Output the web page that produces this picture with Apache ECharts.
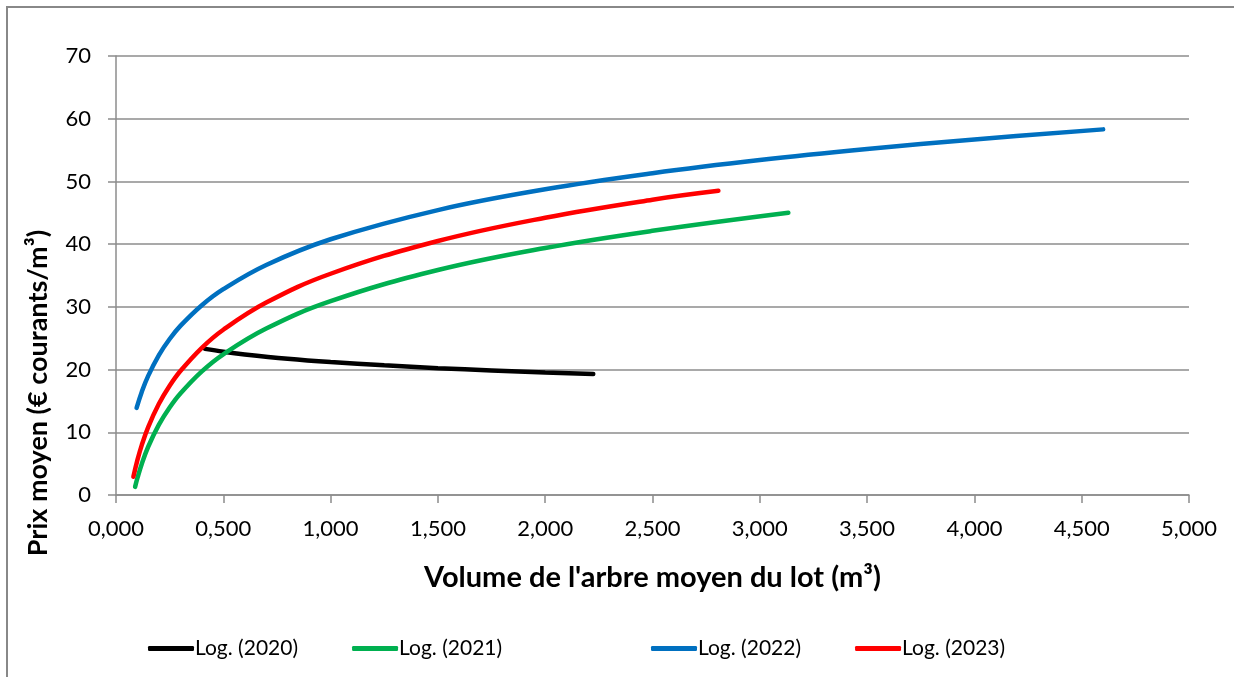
<!DOCTYPE html>
<html>
<head>
<meta charset="utf-8">
<script src="https://cdn.jsdelivr.net/npm/echarts@6/dist/echarts.min.js"></script>
<style>
html,body{margin:0;padding:0;background:#fff;}
#c{width:1234px;height:677px;}
</style>
</head>
<body>
<div id="c"></div>
<script>
// Data (logarithmic trend curves)
const seriesNames = ['Log. (2020)', 'Log. (2021)', 'Log. (2022)', 'Log. (2023)'];
const colors = ['#000000', '#00B050', '#0070C0', '#FF0000'];

const x2020 = [0.415, 0.5, 0.6, 0.8, 1.0, 1.25, 1.5, 1.75, 2.0, 2.224];
const y2020 = [23.3, 22.85, 22.42, 21.73, 21.2, 20.67, 20.23, 19.87, 19.55, 19.3];

const x2021 = [0.089, 0.1, 0.12, 0.15, 0.2, 0.25, 0.3, 0.4, 0.5, 0.7, 1.0, 1.5, 2.0, 2.5, 3.133];
const y2021 = [1.3, 2.72, 4.96, 7.69, 11.21, 13.94, 16.17, 19.70, 22.43, 26.54, 30.91, 35.87, 39.39, 42.12, 45.0];

const x2022 = [0.096, 0.12, 0.15, 0.2, 0.25, 0.3, 0.4, 0.5, 0.7, 1.0, 1.5, 2.0, 2.5, 3.0, 3.5, 4.0, 4.6];
const y2022 = [13.9, 16.44, 19.0, 22.31, 24.87, 26.96, 30.26, 32.82, 36.68, 40.78, 45.43, 48.74, 51.30, 53.40, 55.16, 56.69, 58.3];

const x2023 = [0.081, 0.1, 0.12, 0.15, 0.2, 0.25, 0.3, 0.4, 0.5, 0.7, 1.0, 1.5, 2.0, 2.5, 2.807];
const y2023 = [2.9, 5.59, 7.95, 10.83, 14.54, 17.41, 19.76, 23.47, 26.35, 30.68, 35.28, 40.50, 44.21, 47.09, 48.5];

const xs = [x2020, x2021, x2022, x2023];
const ys = [y2020, y2021, y2022, y2023];

const xTitle = "Volume de l'arbre moyen du lot (m³)";
const yTitle = "Prix moyen (€ courants/m³)";

const font = 'Lato, "Open Sans", sans-serif';

const chart = echarts.init(document.getElementById('c'), null, {renderer: 'canvas'});

const series = seriesNames.map((name, i) => ({
  name: name,
  type: 'line',
  data: xs[i].map((x, j) => [x, ys[i][j]]),
  smooth: 0.4,
  showSymbol: false,
  symbol: 'none',
  lineStyle: {color: colors[i], width: 4.5, cap: 'round'},
  itemStyle: {color: colors[i]},
  emphasis: {disabled: true},
  z: 3
}));

const legendCommon = {
  top: 638,
  padding: 0,
  icon: 'roundRect',
  itemWidth: 46,
  itemHeight: 5,
  itemGap: 54,
  textStyle: {fontFamily: font, fontSize: 21, color: '#000', padding: [0, 0, 0, -4]}
};

chart.setOption({
  animation: false,
  backgroundColor: '#ffffff',
  graphic: [{
    type: 'rect',
    shape: {x: 7, y: 7, width: 1300, height: 800},
    style: {fill: 'none', stroke: '#888888', lineWidth: 2},
    silent: true,
    z: 100
  }, {
    type: 'text',
    x: 38,
    y: 393,
    rotation: Math.PI / 2,
    style: {
      text: yTitle,
      fontFamily: font, fontSize: 27, fontWeight: 'bold', fill: '#000',
      align: 'center', verticalAlign: 'middle'
    },
    silent: true
  }],
  grid: {left: 116, right: 45, top: 56, bottom: 182, containLabel: false},
  legend: [
    Object.assign({data: seriesNames.slice(0, 2), left: 148}, legendCommon),
    Object.assign({data: seriesNames.slice(2, 4), left: 651}, legendCommon)
  ],
  xAxis: {
    type: 'value',
    min: 0,
    max: 5,
    interval: 0.5,
    name: xTitle,
    nameLocation: 'middle',
    nameGap: 68,
    nameTextStyle: {fontFamily: font, fontSize: 29, fontWeight: 'bold', color: '#000'},
    axisLine: {show: true, lineStyle: {color: '#8c8c8c', width: 1.5}},
    axisTick: {show: true, length: 8, inside: false, lineStyle: {color: '#8c8c8c', width: 1.5}},
    axisLabel: {
      fontFamily: font, fontSize: 22, color: '#000', margin: 23,
      formatter: v => v.toFixed(3).replace('.', ',')
    },
    splitLine: {show: false}
  },
  yAxis: {
    type: 'value',
    min: 0,
    max: 70,
    interval: 10,
    axisLine: {show: true, lineStyle: {color: '#8c8c8c', width: 1.5}},
    axisTick: {show: true, length: 8, inside: false, lineStyle: {color: '#8c8c8c', width: 1.5}},
    axisLabel: {fontFamily: font, fontSize: 22, color: '#000', margin: 25},
    splitLine: {show: true, lineStyle: {color: '#8c8c8c', width: 1.5}}
  },
  series: series
});
</script>
</body>
</html>
